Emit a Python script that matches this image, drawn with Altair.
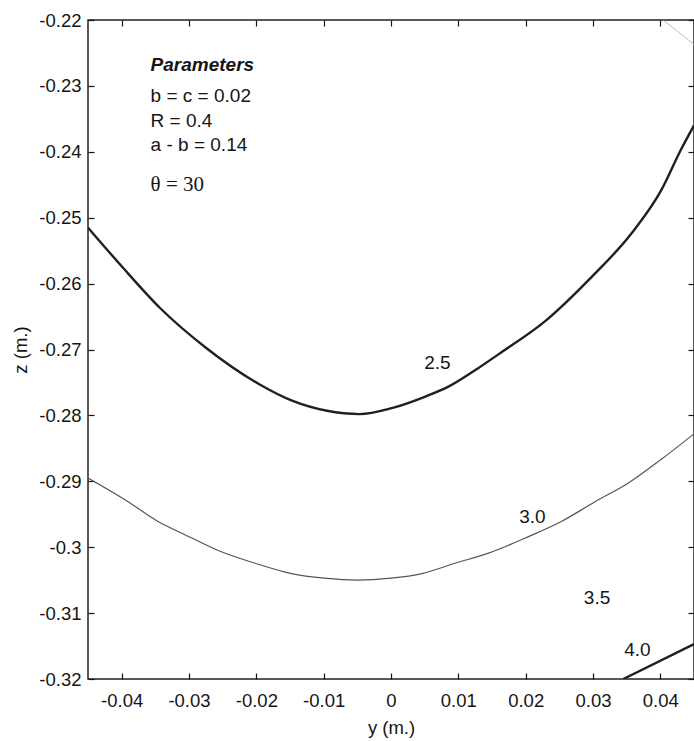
import altair as alt
import pandas as pd

# ---- data ----
y_25 = [-0.0450, -0.0398, -0.0343, -0.0274, -0.0195, -0.0146, -0.0095, -0.0047, 0.0001,
        0.0052, 0.0086, 0.0130, 0.0160, 0.0229, 0.0297, 0.0357, 0.0401, 0.0430, 0.0450]
z_25 = [-0.2515, -0.2576, -0.2637, -0.2698, -0.2753, -0.2778, -0.2793, -0.2798, -0.2789,
        -0.2771, -0.2756, -0.2728, -0.2707, -0.2657, -0.2591, -0.2524, -0.2459, -0.2398, -0.2360]

y_30 = [-0.0450, -0.0395, -0.0346, -0.0306, -0.0252, -0.0203, -0.0148, -0.0099, -0.0050, 0.0000,
        0.0046, 0.0096, 0.0145, 0.0204, 0.0253, 0.0303, 0.0352, 0.0401, 0.0450]
z_30 = [-0.2895, -0.2928, -0.2961, -0.2981, -0.3007, -0.3024, -0.3040, -0.3047, -0.3050, -0.3047,
        -0.3040, -0.3024, -0.3009, -0.2984, -0.2961, -0.2931, -0.2903, -0.2867, -0.2828]

y_40 = [0.0345, 0.0450]
z_40 = [-0.3200, -0.3147]

y_20 = [0.0404, 0.0450]
z_20 = [-0.2200, -0.2237]

curve_labels = ["2.5", "3.0", "3.5", "4.0"]
curve_label_y = [0.0069, 0.0210, 0.0306, 0.0366]
curve_label_z = [-0.2720, -0.2954, -0.3077, -0.3156]

param_title = "Parameters"
param_lines = ["b = c = 0.02", "R = 0.4", "a - b = 0.14"]
param_theta = "θ = 30"
param_x = -0.0357
param_title_z = -0.2268
param_lines_z = [-0.2316, -0.2354, -0.2390]
param_theta_z = -0.2451

x_ticks = [-0.04, -0.03, -0.02, -0.01, 0, 0.01, 0.02, 0.03, 0.04]
z_ticks = [-0.32, -0.31, -0.3, -0.29, -0.28, -0.27, -0.26, -0.25, -0.24, -0.23, -0.22]
x_domain = [-0.045, 0.045]
z_domain = [-0.32, -0.22]

FONT = "Liberation Sans"
INK = "#151515"


def frame(ys, zs, name):
    return pd.DataFrame({"y": ys, "z": zs, "curve": name, "order": list(range(len(ys)))})


xs = alt.Scale(domain=x_domain, nice=False, zero=False)
zs = alt.Scale(domain=z_domain, nice=False, zero=False)

x_axis = alt.Axis(values=x_ticks, labelExpr="toString(datum.value)", title="y (m.)",
                  orient="bottom", domain=False, grid=False, offset=-6, tickSize=6,
                  tickColor=INK, tickWidth=1.2, labelPadding=12, labelFont=FONT, labelFontSize=18.5,
                  labelColor=INK, titleFont=FONT, titleFontSize=18.5, titleFontWeight="normal",
                  titleColor=INK, titlePadding=9, labelFlush=False)
z_axis = alt.Axis(values=z_ticks, labelExpr="toString(datum.value)", title="z (m.)",
                  orient="left", domain=False, grid=False, offset=-6, tickSize=6,
                  tickColor=INK, tickWidth=1.2, labelPadding=7, labelFont=FONT, labelFontSize=18.5,
                  labelColor=INK, titleFont=FONT, titleFontSize=18.5, titleFontWeight="normal",
                  titleColor=INK, titlePadding=8, labelFlush=False)

X = alt.X("y:Q", scale=xs, axis=x_axis)
Y = alt.Y("z:Q", scale=zs, axis=z_axis)


def line_layer(df, width, color):
    return alt.Chart(df).mark_line(clip=True, strokeWidth=width, color=color,
                                   strokeJoin="round", interpolate="monotone").encode(
        x=X, y=Y, order="order:Q",
    )


l25 = line_layer(frame(y_25, z_25, "2.5"), 2.4, "#202020")
l30 = line_layer(frame(y_30, z_30, "3.0"), 1.2, "#555555")
l40 = line_layer(frame(y_40, z_40, "4.0"), 2.4, "#202020")
l20 = line_layer(frame(y_20, z_20, "2.0"), 0.8, "#aaaaaa")

lab_df = pd.DataFrame({"y": curve_label_y, "z": curve_label_z, "t": curve_labels})
labels = alt.Chart(lab_df).mark_text(font=FONT, fontSize=19, color=INK, align="center",
                                     baseline="middle").encode(x=X, y=Y, text="t:N")

ptitle = alt.Chart(pd.DataFrame({"y": [param_x], "z": [param_title_z], "t": [param_title]})).mark_text(
    font=FONT, fontSize=19, fontWeight="bold", fontStyle="italic", color=INK, align="left",
    baseline="middle").encode(x=X, y=Y, text="t:N")

plines = alt.Chart(pd.DataFrame({"y": [param_x] * len(param_lines), "z": param_lines_z,
                                 "t": param_lines})).mark_text(
    font=FONT, fontSize=19, color=INK, align="left", baseline="middle").encode(x=X, y=Y, text="t:N")

ptheta = alt.Chart(pd.DataFrame({"y": [param_x], "z": [param_theta_z], "t": [param_theta]})).mark_text(
    font="Liberation Serif", fontSize=21, color=INK, align="left", baseline="middle").encode(
    x=X, y=Y, text="t:N")

main = alt.layer(l30, l25, l40, l20, labels, ptitle, plines, ptheta)

# mirrored axes (top / right) with inward ticks
mirror = alt.Chart(frame(y_25, z_25, "m")).mark_point(opacity=0).encode(
    x=alt.X("y:Q", scale=xs, axis=alt.Axis(values=x_ticks, orient="top", labels=False, title=None,
                                           domain=False, grid=False, offset=-6, tickSize=6,
                                           tickColor=INK, tickWidth=1.2)),
    y=alt.Y("z:Q", scale=zs, axis=alt.Axis(values=z_ticks, orient="right", labels=False, title=None,
                                           domain=False, grid=False, offset=-6, tickSize=6,
                                           tickColor=INK, tickWidth=1.2)),
)

chart = alt.layer(main, mirror).resolve_scale(x="independent", y="independent").properties(
    width=606, height=659,
    autosize=alt.AutoSizeParams(type="none"),
    padding={"left": 88, "top": 20, "right": 0, "bottom": 62},
    background="white",
).configure_view(stroke="#222222", strokeWidth=1.5)

chart.save("out.html", embed_options={"renderer": "svg", "actions": False})
